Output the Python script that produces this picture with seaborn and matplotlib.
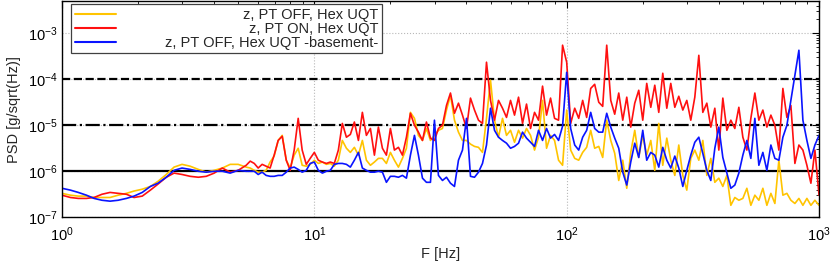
import matplotlib
matplotlib.use("Agg")
import matplotlib.pyplot as plt
from matplotlib.ticker import LogLocator, NullFormatter
import seaborn as sns
import numpy as np

# frequency axis [Hz] shared by the three spectra
freq_hz = [
    1.00, 1.08, 1.16, 1.25, 1.34, 1.44, 1.55, 1.67, 1.80, 1.93,
    2.08, 2.24, 2.40, 2.59, 2.78, 2.99, 3.22, 3.47, 3.73, 4.01,
    4.32, 4.64, 4.99, 5.37,
    5.57, 5.78, 5.99, 6.21, 6.44, 6.68, 6.93, 7.19, 7.46, 7.74,
    8.02, 8.32, 8.63, 8.95, 9.29, 9.63, 10.0,
    10.37, 10.76, 11.16, 11.57, 12.00, 12.45, 12.91, 13.40, 13.89, 14.41,
    14.95, 15.50, 16.08, 16.68, 17.30, 17.94, 18.61, 19.30, 20.02, 20.76,
    21.54, 22.34, 23.17, 24.03, 24.93, 25.85, 26.82, 27.81, 28.85, 29.92,
    31.03, 32.19, 33.39, 34.63, 35.92, 37.25, 38.64, 40.08, 41.57, 43.12,
    44.72, 46.38, 48.11, 49.90, 51.76, 53.68, 55.68, 57.75, 59.90, 62.13,
    64.44, 66.84, 69.32, 71.90, 74.58, 77.35, 80.23, 83.22, 86.31, 89.52,
    92.85, 96.31, 100.0,
    103.7, 107.6, 111.6, 115.7, 120.0, 124.5, 129.1, 134.0, 138.9, 144.1,
    149.5, 155.0, 160.8, 166.8, 173.0, 179.4, 186.1, 193.0, 200.2, 207.6,
    215.4, 223.4, 231.7, 240.3, 249.3, 258.5, 268.2, 278.1, 288.5, 299.2,
    310.3, 321.9, 333.9, 346.3, 359.2, 372.5, 386.4, 400.8, 415.7, 431.2,
    447.2, 463.8, 481.1, 499.0, 517.6, 536.8, 556.8, 577.5, 599.0, 621.3,
    644.4, 668.4, 693.2, 719.0, 745.8, 773.5, 802.3, 832.2, 863.1, 895.2,
    928.5, 963.1, 1000.0,
]

# log10 of PSD [g/sqrt(Hz)]
psd_pt_off_log = [
    -6.48, -6.52, -6.54, -6.54, -6.57, -6.57, -6.57, -6.52, -6.48, -6.43,
    -6.39, -6.33, -6.22, -6.07, -5.91, -5.85, -5.89, -5.96, -6.02, -5.98,
    -5.93, -5.85, -5.85, -5.91,
    -5.93, -5.98, -6.02, -6.02, -5.98, -5.80, -5.67, -5.33, -5.22, -5.76,
    -5.93, -5.65, -5.50, -5.87, -5.89, -5.85, -5.76,
    -5.83, -5.80, -5.85, -5.83, -5.89, -5.76, -5.33, -5.50, -5.59, -5.48,
    -5.65, -5.33, -5.76, -5.87, -5.80, -5.72, -5.72, -5.83, -5.59, -5.76,
    -5.91, -5.72, -5.50, -4.72, -4.85, -5.22, -5.33, -5.07, -5.33, -5.22,
    -5.11, -5.07, -4.67, -4.35, -4.89, -5.15, -5.33, -5.33, -5.41, -5.46,
    -5.48, -5.59, -4.85, -4.02, -4.89, -5.26, -4.85, -5.22, -5.11, -5.37,
    -5.11, -5.28, -5.07, -5.22, -5.54, -5.26, -4.46, -5.50, -5.22, -5.33,
    -5.76, -5.87, -4.67,
    -5.54, -5.72, -5.76, -5.59, -5.48, -5.11, -5.50, -5.46, -5.70, -4.89,
    -5.33, -5.61, -6.20, -5.76, -6.37, -5.59, -5.11, -5.70, -5.22, -5.65,
    -5.33, -5.98, -4.96, -5.87, -5.28, -5.76, -6.09, -5.43, -6.09, -6.41,
    -5.72, -5.54, -5.76, -5.33, -6.09, -5.72, -6.24, -6.15, -6.33, -6.09,
    -6.74, -6.57, -6.63, -6.59, -6.37, -6.74, -6.52, -6.63, -6.37, -6.74,
    -6.48, -6.70, -5.76, -6.52, -6.48, -6.63, -6.70, -6.59, -6.74, -6.59,
    -6.74, -6.63, -6.74,
]

psd_pt_on_log = [
    -6.52, -6.57, -6.59, -6.59, -6.57, -6.50, -6.46, -6.48, -6.50, -6.57,
    -6.54, -6.41, -6.28, -6.13, -6.04, -6.07, -6.11, -6.13, -6.11, -6.04,
    -5.93, -6.02, -5.98, -5.87,
    -5.78, -5.83, -5.93, -5.85, -5.89, -5.93, -5.65, -5.33, -5.24, -5.76,
    -5.98, -5.54, -4.85, -5.54, -5.85, -5.72, -5.59,
    -5.76, -5.80, -5.83, -5.80, -5.83, -5.54, -4.96, -5.26, -5.20, -4.93,
    -5.33, -4.72, -5.22, -5.07, -5.65, -5.04, -5.50, -5.65, -5.07, -5.54,
    -5.48, -5.65, -5.26, -4.74, -5.00, -5.15, -5.33, -4.93, -5.28, -5.33,
    -5.07, -5.00, -4.57, -4.30, -4.74, -4.52, -4.78, -5.07, -4.41, -4.67,
    -4.89, -4.96, -3.63, -4.46, -4.89, -4.46, -4.63, -4.83, -4.46, -4.78,
    -4.39, -4.96, -4.54, -5.07, -4.72, -4.89, -4.15, -4.78, -4.41, -4.85,
    -4.89, -3.26, -3.63,
    -4.96, -4.63, -4.85, -4.46, -4.83, -4.20, -4.11, -4.50, -4.59, -3.26,
    -4.46, -4.76, -4.30, -4.89, -4.39, -5.04, -4.52, -4.24, -4.89, -4.09,
    -4.61, -4.13, -4.72, -3.87, -4.63, -4.09, -4.61, -4.37, -4.67, -4.46,
    -4.89, -4.39, -3.48, -4.72, -4.52, -5.04, -4.63, -5.54, -4.41, -5.11,
    -4.89, -5.07, -4.61, -5.26, -5.54, -4.85, -4.30, -4.89, -4.67, -5.04,
    -4.78, -5.00, -5.54, -4.20, -4.83, -4.57, -5.83, -5.43, -5.54, -5.87,
    -6.26, -5.54, -6.52,
]

psd_basement_log = [
    -6.37, -6.41, -6.46, -6.52, -6.59, -6.63, -6.65, -6.63, -6.59, -6.54,
    -6.46, -6.33, -6.26, -6.13, -5.98, -5.93, -5.96, -6.00, -6.02, -6.00,
    -6.00, -6.04, -5.98, -6.00,
    -6.00, -6.00, -6.07, -6.02, -6.09, -6.11, -6.11, -6.09, -6.09, -6.02,
    -5.93, -5.91, -5.96, -6.02, -5.98, -5.83, -5.80,
    -5.98, -6.04, -6.00, -5.98, -5.85, -5.83, -5.83, -5.85, -5.91, -5.76,
    -5.59, -5.93, -5.98, -6.02, -6.02, -6.00, -6.02, -6.24, -6.11, -6.11,
    -6.13, -6.09, -6.15, -5.65, -5.22, -5.65, -6.15, -6.24, -6.24, -4.89,
    -6.09, -6.20, -6.13, -6.26, -6.33, -5.76, -5.54, -4.85, -6.11, -6.13,
    -6.02, -5.83, -5.43, -4.63, -5.11, -5.26, -5.33, -5.39, -5.50, -5.46,
    -5.39, -5.15, -5.28, -5.37, -5.46, -5.11, -5.33, -5.07, -5.28, -5.20,
    -5.33, -5.02, -3.85,
    -5.07, -5.43, -5.54, -5.26, -5.11, -4.72, -5.07, -5.15, -5.15, -4.74,
    -5.04, -5.28, -5.50, -6.02, -6.30, -5.80, -5.39, -5.70, -5.11, -5.76,
    -5.59, -5.65, -5.91, -5.48, -5.76, -5.93, -5.67, -5.93, -6.33, -5.98,
    -5.65, -5.37, -5.26, -5.61, -5.98, -6.20, -5.50, -5.04, -5.70, -6.04,
    -6.37, -6.30, -6.04, -5.65, -5.33, -5.72, -4.85, -5.87, -5.59, -5.98,
    -5.43, -5.72, -5.76, -5.26, -5.00, -4.46, -3.91, -3.37, -4.89, -5.33,
    -5.72, -5.43, -5.22,
]

series_labels = ["z, PT OFF, Hex UQT", "z, PT ON, Hex UQT", "z, PT OFF, Hex UQT -basement-"]
series_colors = ["#ffc400", "#ff1010", "#0a14ff"]

# reference levels
ref_levels = [1e-4, 1e-5, 1e-6]
ref_styles = ["--", "-.", "-"]

sns.set_style("white")
plt.rcParams['font.family'] = ['Liberation Sans', 'DejaVu Sans']
plt.rcParams['mathtext.fontset'] = 'custom'
plt.rcParams['mathtext.rm'] = 'Liberation Sans'

fig = plt.figure(figsize=(8.31, 2.64), dpi=100)
ax = fig.add_axes([0.0746, 0.177, 0.911, 0.819])

for lvl, ls in zip(ref_levels, ref_styles):
    ax.axhline(lvl, color="black", linestyle=ls, linewidth=1.6, zorder=1.5)

for vals, lab, col in zip([psd_pt_off_log, psd_pt_on_log, psd_basement_log], series_labels, series_colors):
    sns.lineplot(x=freq_hz, y=10 ** np.array(vals), color=col, linewidth=1.2,
                 label=lab, estimator=None, sort=False, ax=ax)

ax.set_xscale("log")
ax.set_yscale("log")
ax.set_xlim(1, 1000)
ax.set_ylim(1e-7, 5e-3)
ax.xaxis.set_minor_locator(LogLocator(base=10, subs=range(2, 10), numticks=20))
ax.yaxis.set_minor_locator(LogLocator(base=10, subs=range(2, 10), numticks=20))
ax.xaxis.set_minor_formatter(NullFormatter())
ax.yaxis.set_minor_formatter(NullFormatter())
ax.grid(True, which="major", color="#b8b8b8", linestyle=":", linewidth=0.8)
ax.tick_params(which="both", direction="in", top=True, right=True, labelsize=10.5, colors="black")
ax.tick_params(which="major", length=5, width=0.8)
ax.tick_params(axis="x", which="major", pad=6)
ax.tick_params(axis="y", which="major", pad=3)
ax.tick_params(which="minor", length=2.5, width=0.6)
for sp in ax.spines.values():
    sp.set_color("black")
    sp.set_linewidth(1.0)

ax.set_xlabel("F [Hz]", fontsize=10.5, labelpad=2)
ax.set_ylabel("PSD [g/sqrt(Hz)]", fontsize=10.5, labelpad=5)

leg = ax.legend(loc="upper left", bbox_to_anchor=(0.012, 0.986), borderaxespad=0,
                frameon=True, fancybox=False, framealpha=1, edgecolor="#404040",
                fontsize=10.5, handlelength=2.8, handletextpad=3.4, borderpad=0.25,
                labelspacing=0.0)
leg.get_frame().set_linewidth(0.9)
for ln in leg.get_lines():
    ln.set_linewidth(1.5)

# right-align legend labels like the original
fig.canvas.draw()
rend = fig.canvas.get_renderer()
widths = [t.get_window_extent(rend).width for t in leg.get_texts()]
rows = leg._legend_handle_box.get_children()[0].get_children()
for row, w in zip(rows, widths):
    row.sep += (max(widths) - w) * 72 / fig.dpi

fig.savefig("out.png", dpi=100)
